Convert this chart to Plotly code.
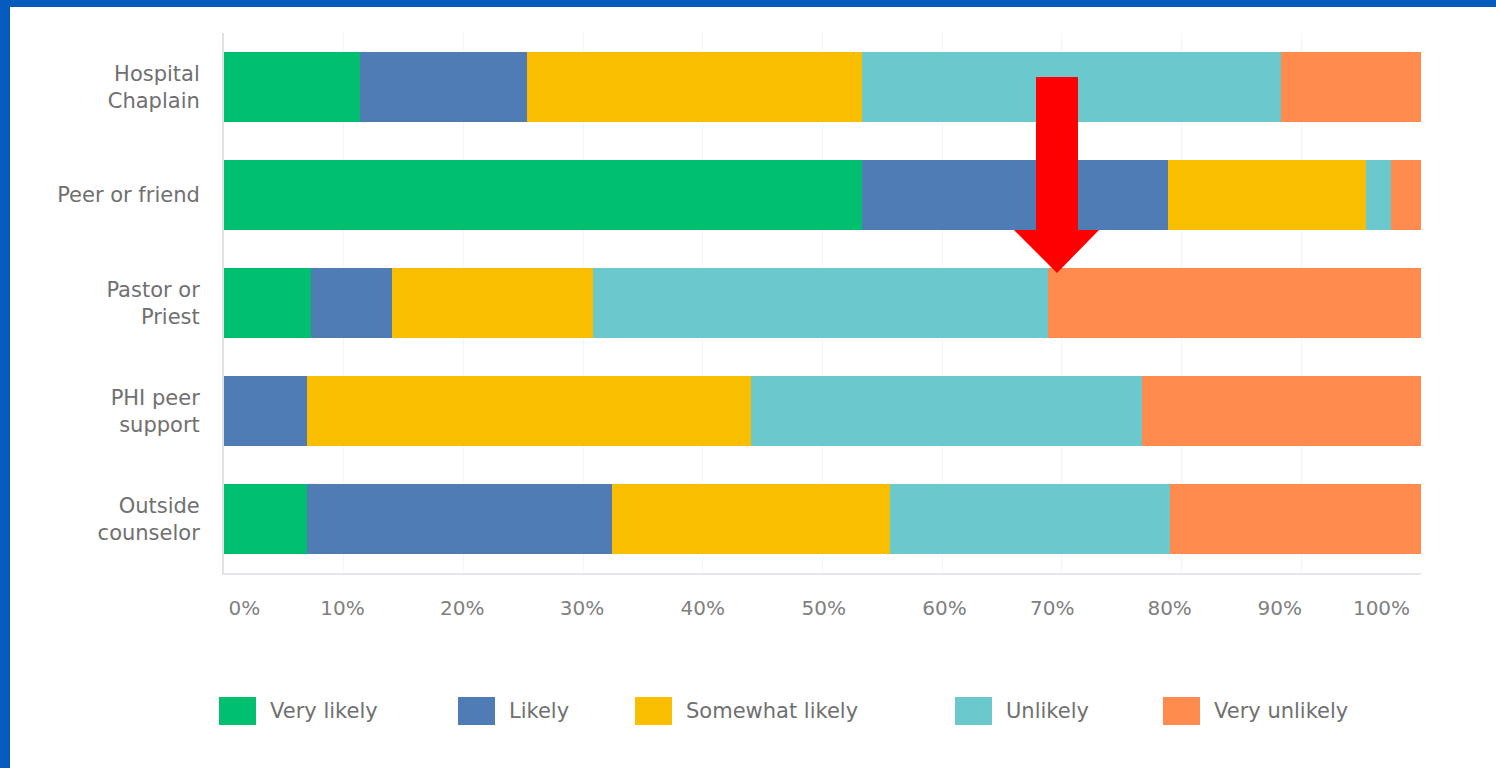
import plotly.graph_objects as go

# ---------------- data ----------------
categories = ["Hospital<br>Chaplain", "Peer or friend", "Pastor or<br>Priest",
              "PHI peer<br>support", "Outside<br>counselor"]
series_names = ["Very likely", "Likely", "Somewhat likely", "Unlikely", "Very unlikely"]
very_likely = [11.4, 53.3, 7.3, 0.0, 6.9]
likely = [13.9, 25.6, 6.7, 6.9, 25.5]
somewhat_likely = [28.0, 16.5, 16.8, 37.1, 23.2]
unlikely = [35.0, 2.1, 38.0, 32.7, 23.4]
very_unlikely = [11.7, 2.5, 31.2, 23.3, 21.0]
tick_labels = ["0%", "10%", "20%", "30%", "40%", "50%", "60%", "70%", "80%", "90%", "100%"]

# ---------------- styles / layout constants ----------------
colors = ["#00BF6F", "#507CB6", "#F9BE00", "#6BC8CD", "#FF8B4F"]
FONT = "DejaVu Sans"
TXT = "#707070"
W, H = 1496, 768
L, R, T, B = 224, 75, 33, 195
PW, PH = W - L - R, H - T - B
# where the tick labels sit in the picture (axis units)
tick_pos = [1.7, 9.9, 19.9, 29.9, 40.0, 50.1, 60.2, 69.2, 79.0, 88.2, 96.7]
legend_x = [219, 458, 635, 955, 1163]   # px, left edge of each legend swatch


def px(x):
    return (x - L) / PW


def py(y):
    return (H - B - y) / PH


values = [very_likely, likely, somewhat_likely, unlikely, very_unlikely]

fig = go.Figure()
for name, vals, col in zip(series_names, values, colors):
    fig.add_trace(go.Bar(
        y=categories, x=vals, name=name, orientation="h",
        marker=dict(color=col, line=dict(width=0)),
        showlegend=False,
        hovertemplate="%{y}: %{x}%<extra>" + name + "</extra>",
    ))

shapes = []
annotations = []

# blue frame on top and left
shapes.append(dict(type="rect", xref="paper", yref="paper",
                   x0=px(0), x1=px(W), y0=py(7), y1=py(-2),
                   fillcolor="#065CBC", line=dict(width=0), layer="above"))
shapes.append(dict(type="rect", xref="paper", yref="paper",
                   x0=px(-2), x1=px(10), y0=py(H + 2), y1=py(-2),
                   fillcolor="#065CBC", line=dict(width=0), layer="above"))

# custom legend
for lx, name, col in zip(legend_x, series_names, colors):
    shapes.append(dict(type="rect", xref="paper", yref="paper",
                       x0=px(lx), x1=px(lx + 37), y0=py(725), y1=py(697),
                       fillcolor=col, line=dict(width=0)))
    annotations.append(dict(xref="paper", yref="paper", x=px(lx + 49), y=py(711),
                            text=name, showarrow=False, xanchor="left", yanchor="middle",
                            font=dict(family=FONT, size=21, color=TXT)))

# red arrow
arrow = [(1036, 77), (1078, 77), (1078, 230), (1099, 230), (1057, 273),
         (1014, 230), (1036, 230)]
path = "M " + " L ".join(f"{px(x):.5f},{py(y):.5f}" for x, y in arrow) + " Z"
shapes.append(dict(type="path", xref="paper", yref="paper", path=path,
                   fillcolor="#FF0000", line=dict(width=0), layer="above"))

fig.update_layout(
    barmode="stack",
    bargap=0.352,
    width=W, height=H,
    margin=dict(l=L, r=R, t=T, b=B, pad=0),
    paper_bgcolor="white",
    plot_bgcolor="white",
    font=dict(family=FONT, size=21, color=TXT),
    shapes=shapes,
    annotations=annotations,
    xaxis=dict(
        range=[0, 100], tickmode="array", tickvals=tick_pos, ticktext=tick_labels,
        showgrid=False, zeroline=False, ticks="",
        showline=True, linecolor="#E3E7EB", linewidth=2, mirror=False,
        ticklabelstandoff=16,
        tickfont=dict(family=FONT, size=20, color="#808080"),
        minor=dict(tickmode="array", tickvals=list(range(0, 101, 10)),
                   showgrid=True, gridcolor="#F3F5F7", gridwidth=1, ticks=""),
        fixedrange=True,
    ),
    yaxis=dict(
        type="category", autorange="reversed",
        showgrid=False, zeroline=False, ticks="",
        showline=True, linecolor="#E0E3E6", linewidth=2,
        ticklabelstandoff=18,
        tickfont=dict(family=FONT, size=21, color=TXT),
        fixedrange=True,
    ),
)

fig.write_html("out.html")
